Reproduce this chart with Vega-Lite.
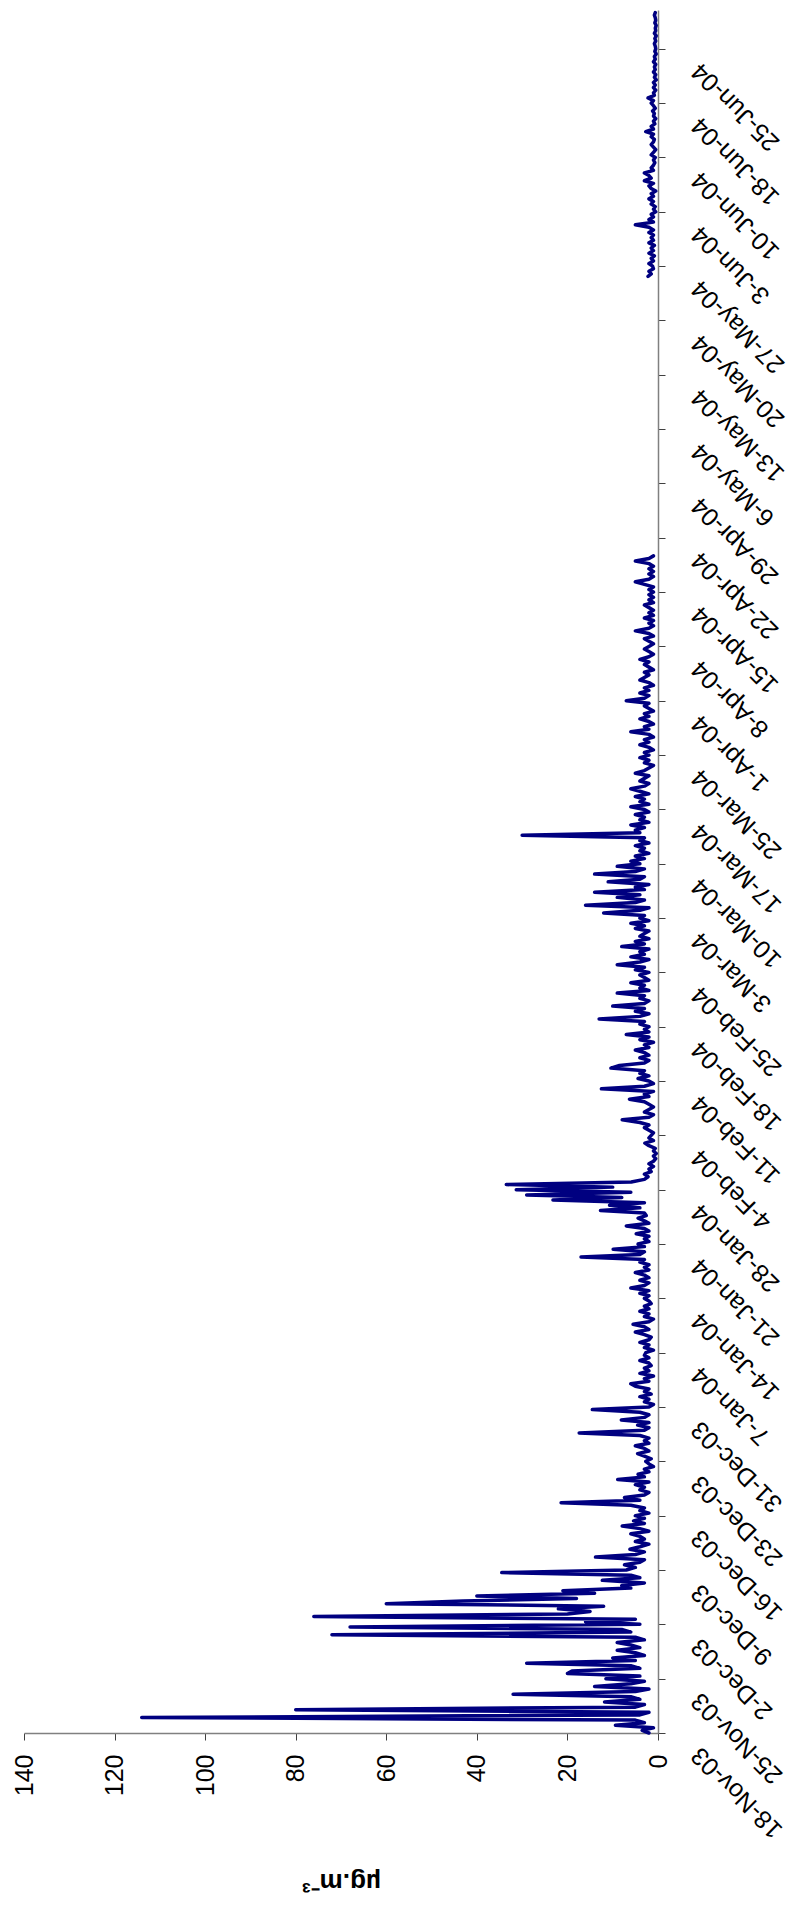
{
"$schema": "https://vega.github.io/schema/vega-lite/v6.json",
"width": 634, "height": 1723,
"autosize": {"type": "none"},
"padding": {"left": 24, "top": 10, "right": 135, "bottom": 174},
"background": "white",
"config": {"view": {"stroke": null}, "font": "Liberation Sans"},
"data": {"values": [
{"i":0,"v":2,"s":1},{"i":1,"v":3.5,"s":1},{"i":2,"v":1,"s":1},{"i":3,"v":9.4,"s":1},{"i":4,"v":3,"s":1},{"i":5,"v":5,"s":1},{"i":6,"v":114,"s":1},{"i":7,"v":4,"s":1},{"i":8,"v":2,"s":1},{"i":9,"v":80,"s":1},{"i":10,"v":5,"s":1},{"i":11,"v":3,"s":1},{"i":12,"v":11.8,"s":1},{"i":13,"v":4,"s":1},{"i":14,"v":6,"s":1},{"i":15,"v":32,"s":1},{"i":16,"v":5,"s":1},{"i":17,"v":2,"s":1},{"i":18,"v":14,"s":1},{"i":19,"v":6,"s":1},{"i":20,"v":3,"s":1},
{"i":21,"v":11.5,"s":1},{"i":22,"v":4,"s":1},{"i":23,"v":20,"s":1},{"i":24,"v":19,"s":1},{"i":25,"v":4,"s":1},{"i":26,"v":6,"s":1},{"i":27,"v":29,"s":1},{"i":28,"v":5,"s":1},{"i":29,"v":10,"s":1},{"i":30,"v":3,"s":1},{"i":31,"v":5,"s":1},{"i":32,"v":9,"s":1},{"i":33,"v":4,"s":1},{"i":34,"v":6,"s":1},{"i":35,"v":9,"s":1},{"i":36,"v":3,"s":1},{"i":37,"v":5,"s":1},{"i":38,"v":72,"s":1},{"i":39,"v":6,"s":1},{"i":40,"v":8,"s":1},{"i":41,"v":68,"s":1},
{"i":42,"v":4,"s":1},{"i":43,"v":16,"s":1},{"i":44,"v":5,"s":1},{"i":45,"v":76,"s":1},{"i":46,"v":20,"s":1},{"i":47,"v":15,"s":1},{"i":48,"v":22,"s":1},{"i":49,"v":12,"s":1},{"i":50,"v":60,"s":1},{"i":51,"v":43,"s":1},{"i":52,"v":18,"s":1},{"i":53,"v":40,"s":1},{"i":54,"v":14,"s":1},{"i":55,"v":21,"s":1},{"i":56,"v":6,"s":1},{"i":57,"v":8,"s":1},{"i":58,"v":3,"s":1},{"i":59,"v":12.3,"s":1},{"i":60,"v":4,"s":1},{"i":61,"v":6,"s":1},{"i":62,"v":34.5,"s":1},
{"i":63,"v":7,"s":1},{"i":64,"v":5,"s":1},{"i":65,"v":7.4,"s":1},{"i":66,"v":4,"s":1},{"i":67,"v":3,"s":1},{"i":68,"v":13.8,"s":1},{"i":69,"v":5,"s":1},{"i":70,"v":3,"s":1},{"i":71,"v":6.2,"s":1},{"i":72,"v":4,"s":1},{"i":73,"v":2,"s":1},{"i":74,"v":5,"s":1},{"i":75,"v":3,"s":1},{"i":76,"v":4,"s":1},{"i":77,"v":6,"s":1},{"i":78,"v":2,"s":1},{"i":79,"v":4,"s":1},{"i":80,"v":7.9,"s":1},{"i":81,"v":3,"s":1},{"i":82,"v":5.4,"s":1},{"i":83,"v":3,"s":1},
{"i":84,"v":5,"s":1},{"i":85,"v":2,"s":1},{"i":86,"v":4,"s":1},{"i":87,"v":3,"s":1},{"i":88,"v":6,"s":1},{"i":89,"v":21.4,"s":1},{"i":90,"v":4,"s":1},{"i":91,"v":7.4,"s":1},{"i":92,"v":3,"s":1},{"i":93,"v":2,"s":1},{"i":94,"v":4,"s":1},{"i":95,"v":3,"s":1},{"i":96,"v":5,"s":1},{"i":97,"v":2,"s":1},{"i":98,"v":8.9,"s":1},{"i":99,"v":3,"s":1},{"i":100,"v":4.4,"s":1},{"i":101,"v":2,"s":1},{"i":102,"v":3,"s":1},{"i":103,"v":1,"s":1},{"i":104,"v":2,"s":1},
{"i":105,"v":2.7,"s":1},{"i":106,"v":1.5,"s":1},{"i":107,"v":3,"s":1},{"i":108,"v":4.5,"s":1},{"i":109,"v":2,"s":1},{"i":110,"v":3,"s":1},{"i":111,"v":5,"s":1},{"i":112,"v":2,"s":1},{"i":113,"v":3,"s":1},{"i":114,"v":2,"s":1},{"i":115,"v":4,"s":1},{"i":116,"v":17.4,"s":1},{"i":117,"v":3,"s":1},{"i":118,"v":2,"s":1},{"i":119,"v":4.5,"s":1},{"i":120,"v":2,"s":1},{"i":121,"v":8.1,"s":1},{"i":122,"v":3,"s":1},{"i":123,"v":2,"s":1},{"i":124,"v":4,"s":1},{"i":125,"v":14.5,"s":1},
{"i":126,"v":2,"s":1},{"i":127,"v":1,"s":1},{"i":128,"v":3,"s":1},{"i":129,"v":2,"s":1},{"i":130,"v":4,"s":1},{"i":131,"v":1.5,"s":1},{"i":132,"v":3,"s":1},{"i":133,"v":2,"s":1},{"i":134,"v":5,"s":1},{"i":135,"v":6,"s":1},{"i":136,"v":2,"s":1},{"i":137,"v":3,"s":1},{"i":138,"v":1,"s":1},{"i":139,"v":4,"s":1},{"i":140,"v":2,"s":1},{"i":141,"v":3,"s":1},{"i":142,"v":1.5,"s":1},{"i":143,"v":2,"s":1},{"i":144,"v":4,"s":1},{"i":145,"v":2,"s":1},{"i":146,"v":3,"s":1},
{"i":147,"v":2.7,"s":1},{"i":148,"v":1,"s":1},{"i":149,"v":3,"s":1},{"i":150,"v":2,"s":1},{"i":151,"v":4,"s":1},{"i":152,"v":2,"s":1},{"i":153,"v":1.5,"s":1},{"i":154,"v":3,"s":1},{"i":155,"v":5,"s":1},{"i":156,"v":2,"s":1},{"i":157,"v":3,"s":1},{"i":158,"v":5.5,"s":1},{"i":159,"v":2,"s":1},{"i":160,"v":1,"s":1},{"i":161,"v":3,"s":1},{"i":162,"v":2,"s":1},{"i":163,"v":4,"s":1},{"i":164,"v":2,"s":1},{"i":165,"v":3,"s":1},{"i":166,"v":1.5,"s":1},{"i":167,"v":2,"s":1},
{"i":168,"v":3,"s":1},{"i":169,"v":2,"s":1},{"i":170,"v":4,"s":1},{"i":171,"v":2,"s":1},{"i":172,"v":6,"s":1},{"i":173,"v":3,"s":1},{"i":174,"v":2,"s":1},{"i":175,"v":4,"s":1},{"i":176,"v":2,"s":1},{"i":177,"v":3,"s":1},{"i":178,"v":5,"s":1},{"i":179,"v":2,"s":1},{"i":180,"v":3,"s":1},{"i":181,"v":2,"s":1},{"i":182,"v":4,"s":1},{"i":183,"v":3,"s":1},{"i":184,"v":17,"s":1},{"i":185,"v":4,"s":1},{"i":186,"v":3,"s":1},{"i":187,"v":9.9,"s":1},{"i":188,"v":3,"s":1},
{"i":189,"v":4.4,"s":1},{"i":190,"v":2,"s":1},{"i":191,"v":3,"s":1},{"i":192,"v":2,"s":1},{"i":193,"v":4.8,"s":1},{"i":194,"v":2,"s":1},{"i":195,"v":3,"s":1},{"i":196,"v":7,"s":1},{"i":197,"v":2,"s":1},{"i":198,"v":3,"s":1},{"i":199,"v":4.4,"s":1},{"i":200,"v":2.6,"s":1},{"i":201,"v":3,"s":1},{"i":202,"v":12.7,"s":1},{"i":203,"v":4,"s":1},{"i":204,"v":10.7,"s":1},{"i":205,"v":3,"s":1},{"i":206,"v":23.2,"s":1},{"i":207,"v":8,"s":1},{"i":208,"v":29,"s":1},{"i":209,"v":6,"s":1},
{"i":210,"v":31.3,"s":1},{"i":211,"v":10,"s":1},{"i":212,"v":33.5,"s":1},{"i":213,"v":5.9,"s":1},{"i":214,"v":3,"s":1},{"i":215,"v":2.2,"s":1},{"i":216,"v":3,"s":1},{"i":217,"v":1.5,"s":1},{"i":218,"v":2,"s":1},{"i":219,"v":1,"s":1},{"i":220,"v":2,"s":1},{"i":221,"v":1,"s":1},{"i":222,"v":0.5,"s":1},{"i":223,"v":1,"s":1},{"i":224,"v":0.4,"s":1},{"i":225,"v":1,"s":1},{"i":226,"v":0.6,"s":1},{"i":227,"v":2,"s":1},{"i":228,"v":2.9,"s":1},{"i":229,"v":1,"s":1},{"i":230,"v":2,"s":1},
{"i":231,"v":1.5,"s":1},{"i":232,"v":1,"s":1},{"i":233,"v":2,"s":1},{"i":234,"v":3,"s":1},{"i":235,"v":2,"s":1},{"i":236,"v":4,"s":1},{"i":237,"v":7.9,"s":1},{"i":238,"v":2,"s":1},{"i":239,"v":1,"s":1},{"i":240,"v":3,"s":1},{"i":241,"v":2,"s":1},{"i":242,"v":1,"s":1},{"i":243,"v":2,"s":1},{"i":244,"v":3,"s":1},{"i":245,"v":6.3,"s":1},{"i":246,"v":2,"s":1},{"i":247,"v":3,"s":1},{"i":248,"v":1,"s":1},{"i":249,"v":12.5,"s":1},{"i":250,"v":3,"s":1},{"i":251,"v":1,"s":1},
{"i":252,"v":2,"s":1},{"i":253,"v":4.4,"s":1},{"i":254,"v":2,"s":1},{"i":255,"v":4,"s":1},{"i":256,"v":3,"s":1},{"i":257,"v":10.4,"s":1},{"i":258,"v":8.5,"s":1},{"i":259,"v":3,"s":1},{"i":260,"v":2,"s":1},{"i":261,"v":4,"s":1},{"i":262,"v":2,"s":1},{"i":263,"v":3,"s":1},{"i":264,"v":5,"s":1},{"i":265,"v":2,"s":1},{"i":266,"v":3,"s":1},{"i":267,"v":1,"s":1},{"i":268,"v":4,"s":1},{"i":269,"v":2,"s":1},{"i":270,"v":7,"s":1},{"i":271,"v":2,"s":1},{"i":272,"v":3,"s":1},
{"i":273,"v":2,"s":1},{"i":274,"v":4,"s":1},{"i":275,"v":3,"s":1},{"i":276,"v":13,"s":1},{"i":277,"v":4,"s":1},{"i":278,"v":2,"s":1},{"i":279,"v":5,"s":1},{"i":280,"v":3,"s":1},{"i":281,"v":10,"s":1},{"i":282,"v":3,"s":1},{"i":283,"v":2,"s":1},{"i":284,"v":4,"s":1},{"i":285,"v":3,"s":1},{"i":286,"v":9,"s":1},{"i":287,"v":2,"s":1},{"i":288,"v":4,"s":1},{"i":289,"v":3,"s":1},{"i":290,"v":6,"s":1},{"i":291,"v":2,"s":1},{"i":292,"v":3,"s":1},{"i":293,"v":4,"s":1},
{"i":294,"v":2,"s":1},{"i":295,"v":5,"s":1},{"i":296,"v":3,"s":1},{"i":297,"v":9,"s":1},{"i":298,"v":4,"s":1},{"i":299,"v":2,"s":1},{"i":300,"v":6,"s":1},{"i":301,"v":3,"s":1},{"i":302,"v":4,"s":1},{"i":303,"v":2,"s":1},{"i":304,"v":8,"s":1},{"i":305,"v":3,"s":1},{"i":306,"v":5,"s":1},{"i":307,"v":2,"s":1},{"i":308,"v":4,"s":1},{"i":309,"v":3,"s":1},{"i":310,"v":2,"s":1},{"i":311,"v":5,"s":1},{"i":312,"v":3,"s":1},{"i":313,"v":6,"s":1},{"i":314,"v":2,"s":1},
{"i":315,"v":4,"s":1},{"i":316,"v":3,"s":1},{"i":317,"v":12,"s":1},{"i":318,"v":4,"s":1},{"i":319,"v":2,"s":1},{"i":320,"v":16,"s":1},{"i":321,"v":5,"s":1},{"i":322,"v":3,"s":1},{"i":323,"v":9,"s":1},{"i":324,"v":4,"s":1},{"i":325,"v":14,"s":1},{"i":326,"v":3,"s":1},{"i":327,"v":5,"s":1},{"i":328,"v":2,"s":1},{"i":329,"v":11,"s":1},{"i":330,"v":4,"s":1},{"i":331,"v":3,"s":1},{"i":332,"v":14,"s":1},{"i":333,"v":5,"s":1},{"i":334,"v":3,"s":1},{"i":335,"v":9,"s":1},
{"i":336,"v":4,"s":1},{"i":337,"v":6,"s":1},{"i":338,"v":3,"s":1},{"i":339,"v":5,"s":1},{"i":340,"v":2,"s":1},{"i":341,"v":4,"s":1},{"i":342,"v":3,"s":1},{"i":343,"v":5,"s":1},{"i":344,"v":2,"s":1},{"i":345,"v":4,"s":1},{"i":346,"v":3,"s":1},{"i":347,"v":30,"s":1},{"i":348,"v":4,"s":1},{"i":349,"v":5,"s":1},{"i":350,"v":3,"s":1},{"i":351,"v":6,"s":1},{"i":352,"v":2,"s":1},{"i":353,"v":4,"s":1},{"i":354,"v":3,"s":1},{"i":355,"v":5,"s":1},{"i":356,"v":2,"s":1},
{"i":357,"v":3,"s":1},{"i":358,"v":6,"s":1},{"i":359,"v":2,"s":1},{"i":360,"v":4,"s":1},{"i":361,"v":3,"s":1},{"i":362,"v":5,"s":1},{"i":363,"v":2,"s":1},{"i":364,"v":4,"s":1},{"i":365,"v":6,"s":1},{"i":366,"v":3,"s":1},{"i":367,"v":2,"s":1},{"i":368,"v":4,"s":1},{"i":369,"v":3,"s":1},{"i":370,"v":2,"s":1},{"i":371,"v":5,"s":1},{"i":372,"v":3,"s":1},{"i":373,"v":2,"s":1},{"i":374,"v":1,"s":1},{"i":375,"v":3,"s":1},{"i":376,"v":2,"s":1},{"i":377,"v":4,"s":1},
{"i":378,"v":2,"s":1},{"i":379,"v":3,"s":1},{"i":380,"v":1,"s":1},{"i":381,"v":2,"s":1},{"i":382,"v":4,"s":1},{"i":383,"v":2,"s":1},{"i":384,"v":3,"s":1},{"i":385,"v":1,"s":1},{"i":386,"v":2,"s":1},{"i":387,"v":6,"s":1},{"i":388,"v":2,"s":1},{"i":389,"v":3,"s":1},{"i":390,"v":1,"s":1},{"i":391,"v":2,"s":1},{"i":392,"v":4,"s":1},{"i":393,"v":2,"s":1},{"i":394,"v":3,"s":1},{"i":395,"v":1,"s":1},{"i":396,"v":2,"s":1},{"i":397,"v":3,"s":1},{"i":398,"v":2,"s":1},
{"i":399,"v":7,"s":1},{"i":400,"v":3,"s":1},{"i":401,"v":2,"s":1},{"i":402,"v":4,"s":1},{"i":403,"v":2,"s":1},{"i":404,"v":3,"s":1},{"i":405,"v":1,"s":1},{"i":406,"v":2,"s":1},{"i":407,"v":4,"s":1},{"i":408,"v":3,"s":1},{"i":409,"v":2,"s":1},{"i":410,"v":3,"s":1},{"i":411,"v":1,"s":1},{"i":412,"v":2,"s":1},{"i":413,"v":3,"s":1},{"i":414,"v":2,"s":1},{"i":415,"v":4,"s":1},{"i":416,"v":2,"s":1},{"i":417,"v":1,"s":1},{"i":418,"v":2,"s":1},{"i":419,"v":3,"s":1},
{"i":420,"v":2,"s":1},{"i":421,"v":1,"s":1},{"i":422,"v":2,"s":1},{"i":423,"v":3,"s":1},{"i":424,"v":1,"s":1},{"i":425,"v":2,"s":1},{"i":426,"v":5,"s":1},{"i":427,"v":2,"s":1},{"i":428,"v":1,"s":1},{"i":429,"v":2,"s":1},{"i":430,"v":1,"s":1},{"i":431,"v":3,"s":1},{"i":432,"v":1,"s":1},{"i":433,"v":2,"s":1},{"i":434,"v":1,"s":1},{"i":435,"v":2,"s":1},{"i":436,"v":3,"s":1},{"i":437,"v":1,"s":1},{"i":438,"v":2,"s":1},{"i":439,"v":1,"s":1},{"i":440,"v":2,"s":1},
{"i":441,"v":1,"s":1},{"i":442,"v":2,"s":1},{"i":443,"v":1,"s":1},{"i":444,"v":3,"s":1},{"i":445,"v":5,"s":1},{"i":446,"v":2,"s":1},{"i":447,"v":1,"s":1},{"i":448,"v":2,"s":1},{"i":449,"v":1,"s":1},{"i":450,"v":2,"s":1},{"i":451,"v":1,"s":1},{"i":452,"v":2,"s":1},{"i":453,"v":5,"s":1},{"i":454,"v":2,"s":1},{"i":455,"v":1,"s":1},
{"i":563,"v":2.2,"s":2},{"i":564,"v":1.5,"s":2},{"i":565,"v":2,"s":2},{"i":566,"v":1,"s":2},{"i":567,"v":1.2,"s":2},{"i":568,"v":2,"s":2},{"i":569,"v":1,"s":2},{"i":570,"v":1.5,"s":2},{"i":571,"v":0.8,"s":2},{"i":572,"v":2,"s":2},{"i":573,"v":1,"s":2},{"i":574,"v":1.5,"s":2},{"i":575,"v":0.8,"s":2},{"i":576,"v":2,"s":2},{"i":577,"v":1,"s":2},{"i":578,"v":1.5,"s":2},{"i":579,"v":1,"s":2},{"i":580,"v":2,"s":2},{"i":581,"v":1,"s":2},{"i":582,"v":2,"s":2},{"i":583,"v":5,"s":2},
{"i":584,"v":1,"s":2},{"i":585,"v":2,"s":2},{"i":586,"v":1,"s":2},{"i":587,"v":1.5,"s":2},{"i":588,"v":0.5,"s":2},{"i":589,"v":1,"s":2},{"i":590,"v":0.6,"s":2},{"i":591,"v":1.5,"s":2},{"i":592,"v":1,"s":2},{"i":593,"v":2,"s":2},{"i":594,"v":1,"s":2},{"i":595,"v":1.5,"s":2},{"i":596,"v":0.5,"s":2},{"i":597,"v":1.5,"s":2},{"i":598,"v":2,"s":2},{"i":599,"v":1,"s":2},{"i":600,"v":3,"s":2},{"i":601,"v":1.5,"s":2},{"i":602,"v":2,"s":2},{"i":603,"v":3,"s":2},{"i":604,"v":1,"s":2},
{"i":605,"v":1.5,"s":2},{"i":606,"v":1,"s":2},{"i":607,"v":0.7,"s":2},{"i":608,"v":1,"s":2},{"i":609,"v":0.6,"s":2},{"i":610,"v":1.5,"s":2},{"i":611,"v":1,"s":2},{"i":612,"v":0.5,"s":2},{"i":613,"v":1,"s":2},{"i":614,"v":1.5,"s":2},{"i":615,"v":1,"s":2},{"i":616,"v":0.8,"s":2},{"i":617,"v":1.5,"s":2},{"i":618,"v":1,"s":2},{"i":619,"v":2.7,"s":2},{"i":620,"v":1,"s":2},{"i":621,"v":1.5,"s":2},{"i":622,"v":0.7,"s":2},{"i":623,"v":1,"s":2},{"i":624,"v":0.5,"s":2},{"i":625,"v":1,"s":2},
{"i":626,"v":0.8,"s":2},{"i":627,"v":1.2,"s":2},{"i":628,"v":0.6,"s":2},{"i":629,"v":1,"s":2},{"i":630,"v":1.5,"s":2},{"i":631,"v":1,"s":2},{"i":632,"v":2.2,"s":2},{"i":633,"v":0.8,"s":2},{"i":634,"v":1,"s":2},{"i":635,"v":0.5,"s":2},{"i":636,"v":1,"s":2},{"i":637,"v":0.6,"s":2},{"i":638,"v":1,"s":2},{"i":639,"v":0.4,"s":2},{"i":640,"v":0.8,"s":2},{"i":641,"v":0.5,"s":2},{"i":642,"v":1,"s":2},{"i":643,"v":0.6,"s":2},{"i":644,"v":0.8,"s":2},{"i":645,"v":0.5,"s":2},{"i":646,"v":1,"s":2},
{"i":647,"v":0.6,"s":2},{"i":648,"v":0.8,"s":2},{"i":649,"v":0.4,"s":2},{"i":650,"v":0.7,"s":2},{"i":651,"v":0.5,"s":2},{"i":652,"v":0.6,"s":2},{"i":653,"v":0.8,"s":2},{"i":654,"v":0.5,"s":2},{"i":655,"v":0.7,"s":2},{"i":656,"v":0.4,"s":2},{"i":657,"v":0.8,"s":2},{"i":658,"v":0.5,"s":2},{"i":659,"v":0.6,"s":2},{"i":660,"v":0.4,"s":2},{"i":661,"v":0.7,"s":2},{"i":662,"v":0.5,"s":2},{"i":663,"v":0.6,"s":2},{"i":664,"v":0.8,"s":2},{"i":665,"v":0.6,"s":2}
]},
"mark": {"type": "line", "color": "#000080", "strokeWidth": 3.5, "strokeCap": "round", "strokeJoin": "round"},
"encoding": {
  "x": {"field": "v", "type": "quantitative",
    "scale": {"domain": [0, 140], "reverse": true, "nice": false},
    "axis": {"orient": "bottom", "values": [0, 20, 40, 60, 80, 100, 120, 140], "grid": false,
      "domainColor": "#808080", "domainWidth": 1.5, "tickColor": "#404040", "tickSize": 7, "tickWidth": 1,
      "labelAngle": 270, "labelAlign": "right", "labelBaseline": "middle", "labelPadding": 14,
      "labelFont": "Liberation Sans", "labelFontSize": 25, "labelColor": "#000000", "labelOverlap": false, "labelFlush": false,
      "title": "µg.m⁻³", "titleFont": "Liberation Sans", "titleFontSize": 26, "titleFontWeight": "bold", "titleColor": "#000000",
      "titleAngle": 180, "titleX": 317, "titleY": 148, "titleAlign": "center", "titleBaseline": "middle"}},
  "y": {"field": "i", "type": "quantitative",
    "scale": {"domain": [0, 666], "nice": false, "zero": false},
    "axis": {"orient": "right", "values": [0, 21, 42, 63, 84, 105, 126, 147, 168, 189, 210, 231, 252, 273, 294, 315, 336, 357, 378, 399, 420, 441, 462, 483, 504, 525, 546, 567, 588, 609, 630, 651],
      "labelExpr": "['18-Nov-03','25-Nov-03','2-Dec-03','9-Dec-03','16-Dec-03','23-Dec-03','31-Dec-03','7-Jan-04','14-Jan-04','21-Jan-04','28-Jan-04','4-Feb-04','11-Feb-04','18-Feb-04','25-Feb-04','3-Mar-04','10-Mar-04','17-Mar-04','25-Mar-04','1-Apr-04','8-Apr-04','15-Apr-04','22-Apr-04','29-Apr-04','6-May-04','13-May-04','20-May-04','27-May-04','3-Jun-04','10-Jun-04','18-Jun-04','25-Jun-04'][round(datum.value/21)]",
      "grid": false, "domainColor": "#808080", "domainWidth": 1.5, "tickColor": "#404040", "tickSize": 7, "tickWidth": 1,
      "labelAngle": 225, "labelAlign": "right", "labelBaseline": "middle", "labelPadding": 30, "labelOffset": 18,
      "labelFont": "Liberation Sans", "labelFontSize": 25, "labelColor": "#000000", "labelOverlap": false, "labelFlush": false, "labelBound": false,
      "title": null}},
  "detail": {"field": "s", "type": "nominal"},
  "order": {"field": "i", "type": "quantitative"}
}
}
